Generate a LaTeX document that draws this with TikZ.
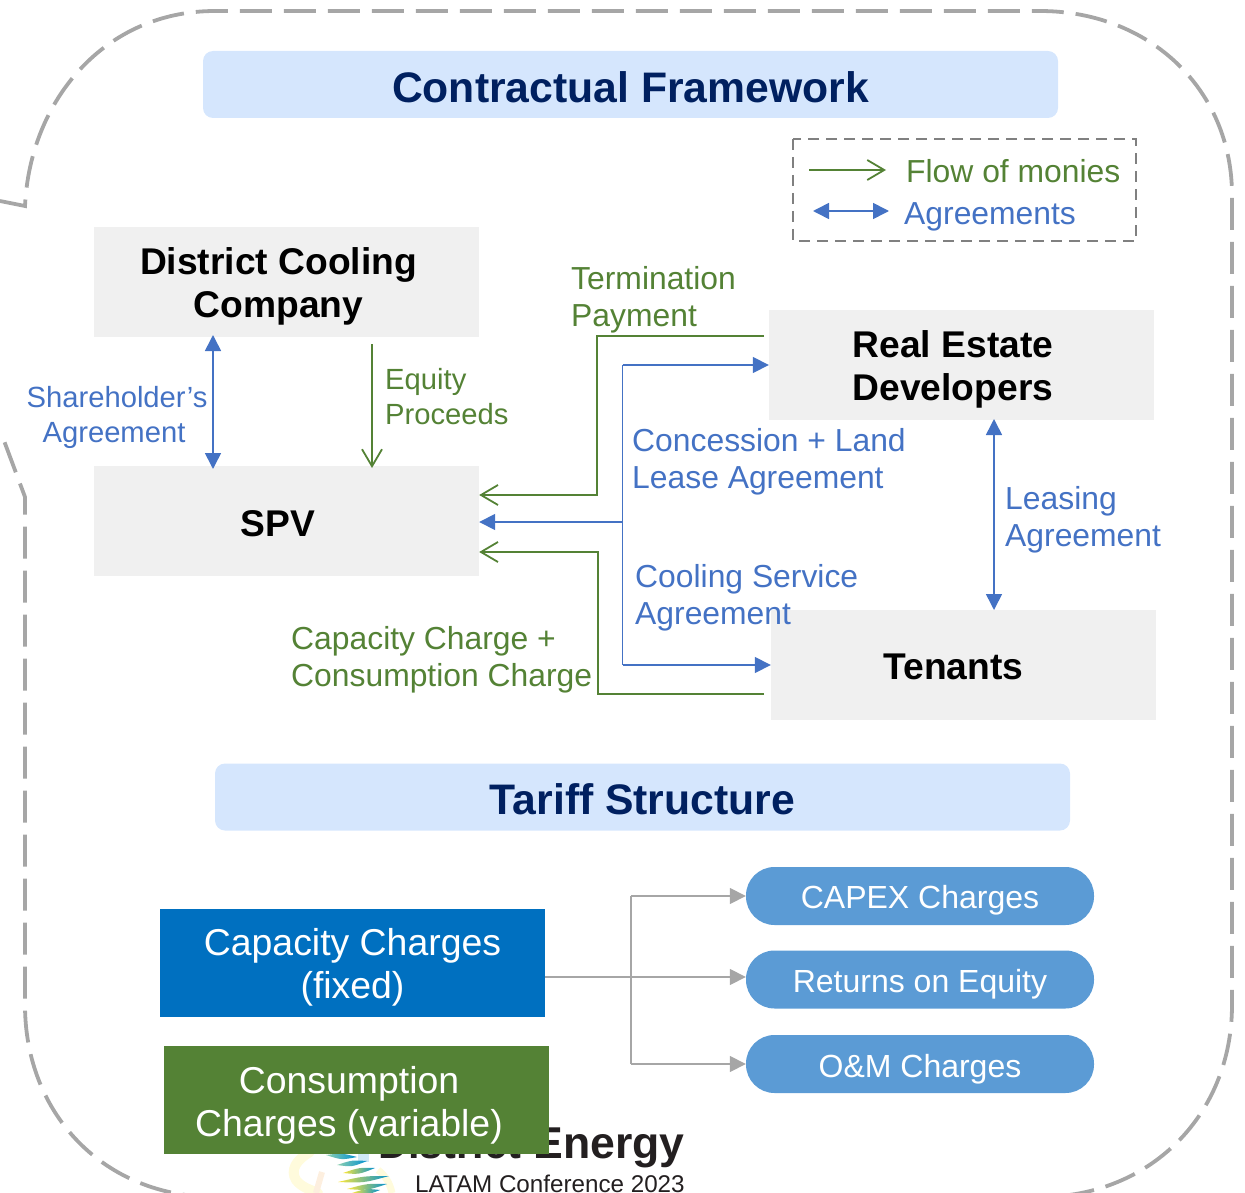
\documentclass[tikz,border=0pt]{standalone}
\usepackage{fontspec}
\setmainfont{Liberation Sans}
\usetikzlibrary{arrows.meta,calc}
\definecolor{gr}{HTML}{548235}
\definecolor{bl}{HTML}{4472C4}
\definecolor{tl}{HTML}{D5E6FD}
\definecolor{navy}{HTML}{002060}
\definecolor{lg}{HTML}{F0F0F0}
\definecolor{gy}{HTML}{A6A6A6}
\definecolor{cb}{HTML}{0070C0}
\definecolor{pill}{HTML}{5B9BD5}
\definecolor{py}{HTML}{FFFBDC}
\definecolor{po}{HTML}{FDEFDF}
\definecolor{pb}{HTML}{CFE9F7}
\definecolor{sy}{HTML}{FFE83A}
\definecolor{st}{HTML}{8FD0B0}
\definecolor{sb}{HTML}{0090D0}
\definecolor{ink}{HTML}{231F20}
\tikzset{
  x=1pt,y=-1pt,
  titlebox/.style={fill=tl,rounded corners=10pt,minimum width=855pt,minimum height=67pt,inner sep=0pt},
  titletext/.style={inner sep=0pt,text=navy,font=\fontsize{42.7}{46}\selectfont\bfseries},
  partybox/.style={fill=lg,minimum width=385pt,minimum height=110pt,inner sep=0pt},
  partytext/.style={inner sep=0pt,align=center,font=\fontsize{37.2}{43}\selectfont\bfseries},
  tariffbox/.style={minimum width=385pt,minimum height=108pt,inner sep=0pt},
  tarifftext/.style={inner sep=0pt,align=center,text=white,font=\fontsize{37.4}{43}\selectfont},
  chargepill/.style={fill=pill,rounded corners=28.5pt,minimum width=348pt,minimum height=58pt,inner sep=0pt},
  pilltext/.style={inner sep=0pt,text=white,font=\fontsize{32}{37}\selectfont},
  lab/.style={inner sep=0pt,align=left,font=\fontsize{31.85}{37}\selectfont},
  smalllab/.style={inner sep=0pt,font=\fontsize{29.2}{35}\selectfont},
  glab/.style={lab,text=gr,anchor=west},
  blab/.style={lab,text=bl,anchor=west},
  gflow/.style={draw=gr,line width=2pt,-{Straight Barb[length=17pt,width=20pt,line width=1.8pt]}},
  bflow/.style={draw=bl,line width=1.6pt,-{Triangle[length=16pt,width=16pt]}},
  bboth/.style={draw=bl,line width=1.6pt,{Triangle[length=16pt,width=16pt]}-{Triangle[length=16pt,width=16pt]}},
  bline/.style={draw=bl,line width=1.6pt},
  gyflow/.style={draw=gy,line width=1.6pt,-{Triangle[length=16pt,width=16pt]}},
  gyline/.style={draw=gy,line width=1.6pt},
  swirl/.style={left color=#1,right color=sb,draw=none},
}
\newcommand{\swirlpiece}[3]{\shade[swirl=#1] (#2) .. controls ($(#2)!0.5!(#3)+(0,-3)$) .. (#3) .. controls ($(#2)!0.5!(#3)+(0,4)$) .. (#2) -- cycle;}
\begin{document}
\begin{tikzpicture}
\useasboundingbox (0,0) rectangle (1245,1193);
\clip (0,0) rectangle (1245,1193);
% outer dashed frame
\draw[gy,line width=3.8pt,dash pattern=on 32pt off 12pt]
  (0,201) -- (25,206)
  .. controls (30,100) and (105,11) .. (215,11)
  -- (1040,11)
  .. controls (1150,11) and (1232,90) .. (1232,195)
  -- (1232,1005)
  .. controls (1232,1115) and (1150,1197) .. (1040,1197)
  -- (215,1197)
  .. controls (105,1197) and (25,1115) .. (25,1005)
  -- (25,497) -- (3,438);
% conference logo
\fill[pb] (358,1152) rectangle (369,1162);
\draw[py,line width=10pt,line cap=round] (310,1152) .. controls (296,1160) and (290,1170) .. (296,1180) .. controls (302,1188) and (312,1190) .. (318,1193);
\draw[po,line width=6pt] (322,1172) -- (316,1193);
\draw[py,line width=7pt] (378,1170) .. controls (386,1176) and (390,1184) .. (392,1193);
\swirlpiece{st}{326,1155}{357,1157}
\swirlpiece{st}{337,1165}{367,1161}
\swirlpiece{sy}{343,1173}{375,1168}
\swirlpiece{sy}{338,1182}{389,1176}
\swirlpiece{sy}{347,1189}{387,1184}
\swirlpiece{sy}{352,1193}{380,1190}
\node[anchor=base west,inner sep=0pt,text=ink,font=\fontsize{44.6}{48}\selectfont\bfseries] (logo) at (378,1158) {\scalebox{0.93}[1]{District} Energy};
\node[anchor=base west,inner sep=0pt,text=ink,font=\fontsize{24.2}{26}\selectfont] (conf) at (415,1192) {LATAM Conference 2023};
% titles
\node[titlebox] (t1) at (630.5,84.5) {};
\node[titletext] (t1t) at (630.5,87.5) {Contractual Framework};
\node[titlebox] (t2) at (642.5,797) {};
\node[titletext] (t2t) at (642.5,799) {Tariff Structure};
% legend
\draw[draw=black!50,line width=2.8pt,dash pattern=on 11pt off 7pt] (793,139) rectangle (1136,241);
\coordinate (lg1) at (809,170); \coordinate (lg2) at (886,170);
\coordinate (lb1) at (813,211); \coordinate (lb2) at (889,211);
\draw[gflow] (lg1) -- (lg2);
\draw[bboth] (lb1) -- (lb2);
\node[glab] (lfm) at (906,171) {Flow of monies};
\node[blab] (lag) at (904,217) {Agreements};
% parties
\node[partybox] (dcc) at (286.5,282) {};
\node[partybox] (spv) at (286.5,521) {};
\node[partybox] (red) at (961.5,365) {};
\node[partybox] (ten) at (963.5,665) {};
\node[partytext] (dcct) at (278.5,286) {District Cooling\\Company};
\node[partytext] (spvt) at (278,524) {SPV};
\node[partytext] (redt) at (953,369) {Real Estate\\Developers};
\node[partytext] (tent) at (953.5,667) {Tenants};
% connector ends
\coordinate (dccA) at (213,335); \coordinate (spvA) at (213,469);
\coordinate (dccB) at (372,344); \coordinate (spvB) at (372,468);
\coordinate (redC) at (994,419); \coordinate (tenC) at (994,610);
\draw[bboth] (dccA) -- (spvA);
\draw[gflow] (dccB) -- (spvB);
\draw[bboth] (redC) -- (tenC);
% green payment flows
\coordinate (tp0) at (764,336); \coordinate (tp1) at (597,336);
\coordinate (cc0) at (764,694); \coordinate (cc1) at (598,694);
\draw[gflow] (tp0) -- (tp1) |- ($(spv.east)+(0,-26)$);
\draw[gflow] (cc0) -- (cc1) |- ($(spv.east)+(0,31)$);
% blue agreement bus
\coordinate (busT) at (622.5,365); \coordinate (busB) at (622.5,665); \coordinate (busM) at (622.5,522);
\draw[bline] (busT) -- (busB);
\draw[bflow] (busT) -- (red.west |- busT);
\draw[bflow] (busB) -- (ten.west |- busB);
\draw[bflow] (busM) -- (spv.east |- busM);
% labels
\node[glab] (ltp) at (571,300) {Termination\\Payment};
\node[smalllab,text=gr,align=left,anchor=west] (lep) at (385,397) {Equity\\Proceeds};
\node[smalllab,text=bl,align=center] (lsa) at (117,417.5) {Shareholder’s\\Agreement\hspace*{6pt}};
\node[blab] (lcl) at (632,462) {Concession + Land\\Lease Agreement};
\node[blab] (lle) at (1005,520) {Leasing\\Agreement};
\node[blab] (lcs) at (635,598) {Cooling Service\\Agreement};
\node[glab] (lcc) at (291,660) {Capacity Charge +\\Consumption Charge};
% tariff
\node[tariffbox,fill=cb] (cap) at (352.5,963) {};
\node[tarifftext] (capt) at (352.5,967) {Capacity Charges\\(fixed)};
\node[tariffbox,fill=gr] (con) at (356.5,1100) {};
\node[tarifftext] (cont) at (349,1105) {Consumption\\Charges (variable)};
\node[chargepill] (p1) at (920,896) {};
\node[chargepill] (p2) at (920,979.5) {};
\node[chargepill] (p3) at (920,1064) {};
\node[pilltext] (p1t) at (920,900) {CAPEX Charges};
\node[pilltext] (p2t) at (920,984.5) {Returns on Equity};
\node[pilltext] (p3t) at (920,1069) {O\&M Charges};
\coordinate (trB) at (631,977);
\draw[gyline] (cap.east |- trB) -- (trB);
\draw[gyline] (trB |- p1) -- (trB |- p3);
\draw[gyflow] (trB |- p1) -- (p1.west);
\draw[gyflow] (trB) -- (p2.west |- trB);
\draw[gyflow] (trB |- p3) -- (p3.west);
\end{tikzpicture}
\end{document}
